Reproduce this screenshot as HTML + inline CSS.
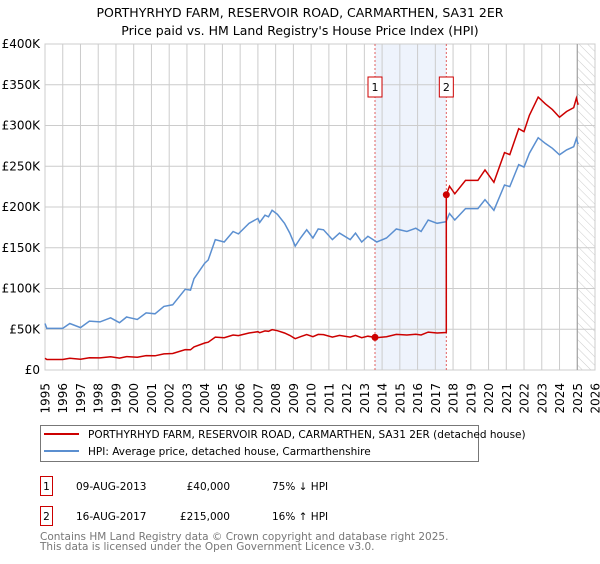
<!DOCTYPE html>
<html><head><meta charset="utf-8"><style>
body{margin:0;background:#fff;width:600px;height:560px;overflow:hidden;font-family:"DejaVu Sans","Liberation Sans",sans-serif}
</style></head><body>
<svg id="chart" width="600" height="560" xmlns="http://www.w3.org/2000/svg" font-family="DejaVu Sans, Liberation Sans, sans-serif">
<defs>
<pattern id="hatch" width="6" height="6" patternUnits="userSpaceOnUse" patternTransform="rotate(-45)">
<line x1="0" y1="0" x2="0" y2="6" stroke="#ccc" stroke-width="1"/></pattern>
</defs>
<text x="300" y="17" text-anchor="middle" font-size="12.5">PORTHYRHYD FARM, RESERVOIR ROAD, CARMARTHEN, SA31 2ER</text>
<text x="300" y="35" text-anchor="middle" font-size="12.5">Price paid vs. HM Land Registry's House Price Index (HPI)</text>
<g id="grid"></g>
<g id="marks"></g>
<g id="axes"></g>
<g>
<rect x="40.5" y="425.5" width="438" height="36" fill="#fff" stroke="#777"/>
<line x1="44" y1="434" x2="79" y2="434" stroke="#cc0000" stroke-width="2"/>
<text x="88" y="438" font-size="10.5">PORTHYRHYD FARM, RESERVOIR ROAD, CARMARTHEN, SA31 2ER (detached house)</text>
<line x1="44" y1="451" x2="79" y2="451" stroke="#5b8fd0" stroke-width="2"/>
<text x="88" y="455" font-size="10.5">HPI: Average price, detached house, Carmarthenshire</text>
</g>
<g font-size="10.5">
<rect x="40.5" y="476.5" width="12" height="19" fill="#fff" stroke="#cc0000"/>
<text x="46.5" y="490" text-anchor="middle">1</text>
<text x="76" y="490">09-AUG-2013</text>
<text x="230" y="490" text-anchor="end">£40,000</text>
<text x="272" y="490">75% ↓ HPI</text>
<rect x="40.5" y="506.5" width="12" height="19" fill="#fff" stroke="#cc0000"/>
<text x="46.5" y="520" text-anchor="middle">2</text>
<text x="76" y="520">16-AUG-2017</text>
<text x="230" y="520" text-anchor="end">£215,000</text>
<text x="272" y="520">16% ↑ HPI</text>
</g>
<text x="40" y="540" font-size="10.5" fill="#777">Contains HM Land Registry data © Crown copyright and database right 2025.</text>
<text x="40" y="550" font-size="10.5" fill="#777">This data is licensed under the Open Government Licence v3.0.</text>
</svg>
<script>
const hpiYears=[1995.0,1995.1,1996.0,1996.4,1997.0,1997.5,1998.1,1998.7,1999.2,1999.6,2000.2,2000.7,2001.2,2001.7,2002.2,2002.9,2003.2,2003.4,2004.0,2004.2,2004.6,2005.1,2005.6,2005.9,2006.5,2007.0,2007.1,2007.4,2007.6,2007.8,2008.1,2008.5,2008.8,2009.1,2009.4,2009.75,2010.1,2010.4,2010.7,2011.2,2011.6,2012.2,2012.5,2012.85,2013.2,2013.7,2014.25,2014.8,2015.4,2015.9,2016.2,2016.6,2017.1,2017.6,2017.8,2018.1,2018.7,2019.4,2019.8,2020.3,2020.9,2021.2,2021.7,2022.0,2022.3,2022.8,2023.2,2023.6,2024.0,2024.4,2024.8,2024.95,2025.05];
const hpiValues=[57,51,51,57,52,60,59,64,58,65,62,70,69,78,80,99,98,112,131,135,160,157,170,167,180,186,181,190,188,196,191,180,168,152,162,172,162,173,172,160,168,160,168,157,164,157,162,173,170,174,170,184,180,182,192,184,198,198,209,196,227,225,252,249,266,285,278,272,264,270,274,284,277];
const saleYears=[2013.6,2017.62];
const salePrices=[40,215];
const saleLabels=["1","2"];
const yTicks=[0,50,100,150,200,250,300,350,400];
const yTickLabels=["£0","£50K","£100K","£150K","£200K","£250K","£300K","£350K","£400K"];
const xTicks=[];for(let y=1995;y<=2026;y++)xTicks.push(y);

const X0=45,X1=595,Y0=370,Y1=44,YR0=1995,YR1=2026,VMAX=400;
const sx=y=>X0+(y-YR0)/(YR1-YR0)*(X1-X0);
const sy=v=>Y0-v/VMAX*(Y0-Y1);
const NS="http://www.w3.org/2000/svg";
function mk(tag,attrs,parent){const e=document.createElementNS(NS,tag);for(const k in attrs)e.setAttribute(k,attrs[k]);parent.appendChild(e);return e;}
const grid=document.getElementById('grid'),marks=document.getElementById('marks'),axes=document.getElementById('axes');

function hpiAt(t){if(t<=hpiYears[0])return hpiValues[0];for(let i=1;i<hpiYears.length;i++){if(t<=hpiYears[i]){const f=(t-hpiYears[i-1])/(hpiYears[i]-hpiYears[i-1]);return hpiValues[i-1]+f*(hpiValues[i]-hpiValues[i-1]);}}return hpiValues[hpiValues.length-1];}

// shaded region between sales
const shade=mk('rect',{x:sx(saleYears[0]),y:Y1,width:sx(saleYears[1])-sx(saleYears[0]),height:Y0-Y1,fill:'#eef3fc'},grid);


// hatch future
const hatch=mk('rect',{x:sx(2025.0),y:Y1,width:X1-sx(2025.0),height:Y0-Y1,fill:'url(#hatch)'},grid);



yTicks.forEach((v,i)=>{
 const l=mk('line',{x1:X0,x2:X1,y1:sy(v),y2:sy(v),stroke:'#ccc','stroke-width':1},grid);
 
 
 const t=mk('text',{x:40,y:sy(v)+4,'text-anchor':'end','font-size':12},axes);
 t.textContent=yTickLabels[i];
 
 
});
xTicks.forEach(y=>{
 const l=mk('line',{x1:sx(y),x2:sx(y),y1:Y1,y2:Y0,stroke:'#ccc','stroke-width':1},grid);
 
 
 const t=mk('text',{x:0,y:0,'text-anchor':'end','font-size':12,transform:`translate(${sx(y)+4.5},383) rotate(-90)`},axes);
 t.textContent=y;
 
 
});
const border=mk('rect',{x:X0,y:Y1,width:X1-X0,height:Y0-Y1,fill:'none',stroke:'#ccc'},grid);


const nowLine=mk('line',{x1:sx(2025.0),x2:sx(2025.0),y1:Y1,y2:Y0,stroke:'#999','stroke-width':1},grid);



// sale dashed lines and labels
saleYears.forEach((y,i)=>{
 const l=mk('line',{x1:sx(y),x2:sx(y),y1:Y1,y2:Y0,stroke:'#e06060','stroke-width':1,'stroke-dasharray':'2,2'},marks);
 
 
 const b=mk('rect',{x:sx(y)-7,y:77,width:14,height:20,fill:'#fff',stroke:'#cc0000'},marks);
 
 
 const t=mk('text',{x:sx(y),y:91,'text-anchor':'middle','font-size':11},marks);
 t.textContent=saleLabels[i];
 
 
});

// HPI line
const hp=hpiYears.map((y,i)=>sx(y).toFixed(1)+','+sy(hpiValues[i]).toFixed(1)).join(' ');
const hpl=mk('polyline',{points:hp,fill:'none',stroke:'#5b8fd0','stroke-width':1.5},marks);



// property line: HPI indexed to sale prices
const r1=salePrices[0]/hpiAt(saleYears[0]),r2=salePrices[1]/hpiAt(saleYears[1]);
const pts=[];
hpiYears.forEach((y,i)=>{if(y<saleYears[1]){pts.push([y,hpiValues[i]*r1]);}});
pts.push([saleYears[1],hpiAt(saleYears[1])*r1]);
pts.push([saleYears[1],salePrices[1]]);
hpiYears.forEach((y,i)=>{if(y>saleYears[1])pts.push([y,hpiValues[i]*r2]);});
const pl=mk('polyline',{points:pts.map(p=>sx(p[0]).toFixed(1)+','+sy(p[1]).toFixed(1)).join(' '),fill:'none',stroke:'#cc0000','stroke-width':1.5},marks);


saleYears.forEach((y,i)=>{
 const c=mk('circle',{cx:sx(y),cy:sy(salePrices[i]),r:3.5,fill:'#cc0000'},marks);
 
 
});
</script>
</body></html>
